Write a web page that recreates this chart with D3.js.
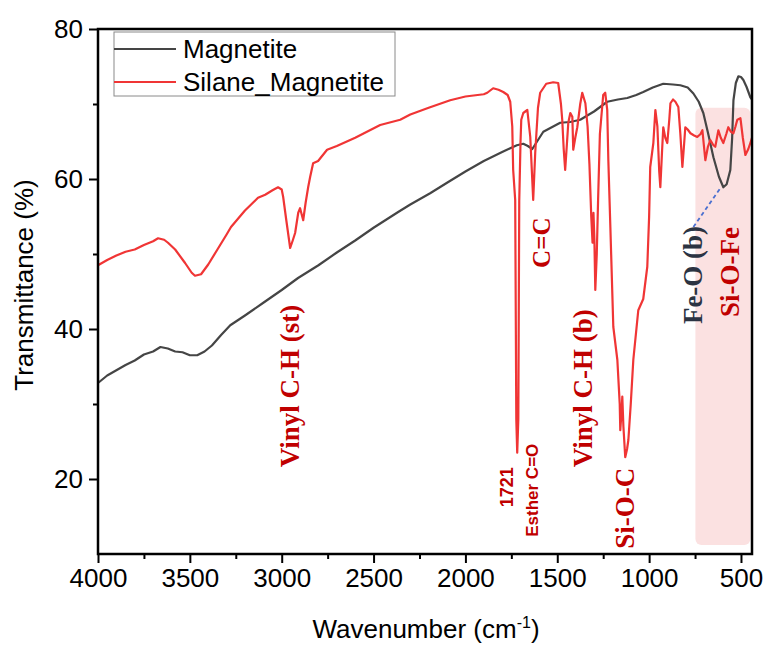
<!DOCTYPE html>
<meta charset="utf-8">
<style>
  body { margin: 0; background: #fff; }
  .tick text { font-family: "Liberation Sans", Arial, sans-serif; font-size: 26px; fill: #000; }
  .ann { font-family: "Liberation Serif", "Times New Roman", serif; font-weight: bold; font-size: 27px; }
  .ann-small { font-family: "Liberation Sans", Arial, sans-serif; font-weight: bold; font-size: 17px; }
</style>
<body>
<svg width="766" height="646"></svg>
<script src="https://cdn.jsdelivr.net/npm/d3@7"></script>
<script>

// spectra (wavenumber in cm-1, transmittance in %)
var magWn = [4000,3950,3900,3850,3800,3750,3700,3660,3620,3580,3540,3500,3460,3420,3380,3330,3280,3200,3100,3000,2911,2800,2700,2600,2500,2366,2300,2192,2100,2000,1900,1800,1756,1720,1685,1660,1636,1610,1576,1530,1484,1430,1375,1300,1228,1170,1119,1070,1032,980,923,870,830,790,759,730,705,680,650,620,596,578,558,548,541,528,514,500,487,470,449,440];
var magT  = [32.8,33.8,34.5,35.2,35.8,36.6,37.0,37.6,37.4,37.0,36.9,36.5,36.5,37.0,37.8,39.2,40.5,41.8,43.5,45.2,46.8,48.5,50.2,51.8,53.5,55.6,56.6,58.1,59.5,61.0,62.4,63.6,64.1,64.5,64.7,64.4,64.0,65.0,66.3,66.9,67.5,67.6,67.9,69.0,70.3,70.6,70.8,71.2,71.6,72.2,72.7,72.6,72.5,72.2,71.4,70.3,68.8,66.2,62.9,60.3,58.9,59.3,61.2,65.5,70.5,72.8,73.7,73.6,73.2,72.3,70.9,70.6];

var silWn = [4000,3950,3900,3850,3800,3750,3700,3673,3640,3619,3580,3526,3490,3472,3439,3400,3350,3300,3276,3200,3129,3090,3050,3020,3000,2992,2975,2954,2940,2927,2910,2900,2883,2870,2856,2845,2829,2802,2753,2700,2600,2464,2355,2300,2200,2083,2000,1900,1881,1849,1820,1794,1770,1756,1745,1740,1729,1723,1718,1712,1707,1700,1696,1685,1663,1647,1631,1620,1605,1593,1560,1522,1495,1480,1473,1465,1457,1448,1440,1429,1418,1413,1402,1391,1375,1364,1347,1335,1325,1315,1308,1303,1298,1293,1285,1278,1268,1250,1239,1228,1222,1211,1195,1173,1160,1157,1150,1146,1140,1130,1120,1113,1100,1086,1059,1032,1010,1000,994,977,966,955,945,939,930,923,912,901,890,884,870,857,841,830,819,810,803,790,775,755,738,720,710,700,694,680,667,650,640,623,610,596,580,569,555,541,530,520,503,490,476,460,449,440];
var silT  = [48.5,49.2,49.8,50.3,50.6,51.2,51.7,52.1,51.9,51.5,50.6,48.8,47.5,47.1,47.3,48.6,50.6,52.6,53.6,55.8,57.5,57.9,58.5,58.9,58.6,57.6,54.5,50.8,51.8,52.8,55.5,56.1,54.5,56.8,58.9,60.3,62.1,62.4,63.9,64.4,65.5,67.2,67.9,68.6,69.5,70.5,71.0,71.3,71.5,72.1,71.9,71.6,71.2,70.3,67.0,61.2,57.2,27.9,23.5,28.0,57.0,65.0,67.9,68.8,69.2,65.6,57.2,63.5,69.5,71.5,72.7,72.9,72.8,70.0,67.9,64.0,61.2,64.5,67.5,68.8,68.3,63.9,65.5,66.9,70.0,71.5,70.1,67.0,62.0,55.0,51.5,55.5,52.0,45.2,50.0,57.0,66.0,71.2,71.5,69.2,62.5,53.6,40.3,35.9,30.0,26.5,29.0,31.0,27.0,22.9,24.0,25.2,30.0,35.9,42.5,44.0,48.3,55.0,61.6,64.8,69.2,67.0,61.0,58.9,63.5,66.9,65.5,64.8,68.0,70.1,70.6,70.3,69.6,66.0,61.6,64.5,66.9,66.6,66.1,65.8,65.6,66.0,66.5,64.0,62.5,64.3,65.2,64.5,64.3,66.5,65.5,64.8,66.0,66.9,66.3,66.1,67.0,67.9,68.1,65.5,63.2,64.0,64.8,65.5];

var seriesNames = ["Magnetite", "Silane_Magnetite"];

// band labels: text, wavenumber, transmittance (label centre), style
var annText = ["Vinyl C-H (st)", "1721", "Esther C=O", "C=C", "Vinyl C-H (b)", "Si-O-C", "Fe-O (b)", "Si-O-Fe"];
var annWn   = [2954, 1772, 1636, 1587, 1358, 1130, 759, 558];
var annT    = [32.4, 18.9, 18.5, 51.5, 32.1, 16.1, 47.2, 47.6];
var annKind = ["big", "small", "small", "c", "big", "big", "feo", "big"];

// highlighted Si-O-Fe region
var bandWn = [748, 449];
var bandT  = [11.2, 69.5];

var xTicks = [4000, 3500, 3000, 2500, 2000, 1500, 1000, 500];
var xMinor = [3750, 3250, 2750, 2250, 1750, 1250, 750];
var yTicks = [20, 40, 60, 80];
var yMinor = [30, 50, 70];

var svg = d3.select("svg");
var mL = 98, mR = 752, mT = 29, mB = 554;

var x = d3.scaleLinear().domain([4000, 440]).range([mL, mR]);
var y = d3.scaleLinear().domain([10, 80]).range([mB, mT]);

// pink band
svg.append("rect")
    .attr("x", x(bandWn[0]))
    .attr("y", y(bandT[1]))
    .attr("width", x(bandWn[1]) - x(bandWn[0]))
    .attr("height", y(bandT[0]) - y(bandT[1]))
    .attr("rx", 6)
    .attr("fill", "#fbe1e1");

var line = d3.line()
    .x(function(d) { return x(d[0]); })
    .y(function(d) { return y(d[1]); });

svg.append("path")
    .datum(magWn.map(function(w, i) { return [w, magT[i]]; }))
    .attr("fill", "none")
    .attr("stroke", "#454545")
    .attr("stroke-width", 2.2)
    .attr("stroke-linejoin", "round")
    .attr("d", line);

svg.append("path")
    .datum(silWn.map(function(w, i) { return [w, silT[i]]; }))
    .attr("fill", "none")
    .attr("stroke", "#f03535")
    .attr("stroke-width", 2.2)
    .attr("stroke-linejoin", "round")
    .attr("d", line);

// axes
svg.append("g").attr("transform", "translate(0," + mB + ")")
    .call(d3.axisBottom(x).tickValues(xTicks).tickSize(9).tickPadding(6).tickFormat(d3.format("d")));
svg.append("g").attr("transform", "translate(0," + mB + ")")
    .call(d3.axisBottom(x).tickValues(xMinor).tickSize(5).tickFormat(""));
svg.append("g").attr("transform", "translate(" + mL + ",0)")
    .call(d3.axisLeft(y).tickValues(yTicks).tickSize(9).tickPadding(6));
svg.append("g").attr("transform", "translate(" + mL + ",0)")
    .call(d3.axisLeft(y).tickValues(yMinor).tickSize(5).tickFormat(""));
svg.selectAll(".domain").remove();
svg.selectAll(".tick line").attr("stroke", "#000").attr("stroke-width", 2);

svg.append("rect")
    .attr("x", mL).attr("y", mT)
    .attr("width", mR - mL).attr("height", mB - mT)
    .attr("fill", "none").attr("stroke", "#000").attr("stroke-width", 2.5);

// axis titles
svg.append("text")
    .attr("transform", "translate(24,285) rotate(-90)")
    .attr("text-anchor", "middle")
    .attr("dominant-baseline", "central")
    .style("font-family", "'Liberation Sans', Arial, sans-serif")
    .style("font-size", "26px")
    .text("Transmittance (%)");

var xt = svg.append("text")
    .attr("x", 426).attr("y", 638)
    .attr("text-anchor", "middle")
    .style("font-family", "'Liberation Sans', Arial, sans-serif")
    .style("font-size", "26px");
xt.append("tspan").text("Wavenumber (cm");
xt.append("tspan").attr("dy", -10).style("font-size", "16px").text("-1");
xt.append("tspan").attr("dy", 10).text(")");

// legend
var legend = svg.append("g");
legend.append("rect")
    .attr("x", 114).attr("y", 32).attr("width", 281).attr("height", 64)
    .attr("fill", "#fff").attr("stroke", "#8a8a8a").attr("stroke-width", 1);
var legColors = ["#454545", "#f03535"];
seriesNames.forEach(function(name, i) {
    var ly = 49 + i * 33;
    legend.append("line")
        .attr("x1", 114).attr("x2", 176).attr("y1", ly).attr("y2", ly)
        .attr("stroke", legColors[i]).attr("stroke-width", 2.2);
    legend.append("text")
        .attr("x", 183).attr("y", ly)
        .attr("dominant-baseline", "central")
        .style("font-family", "'Liberation Sans', Arial, sans-serif")
        .style("font-size", "26px")
        .text(name);
});

// dashed pointer from Fe-O label to the magnetite minimum
svg.append("line")
    .attr("x1", x(759)).attr("y1", y(53.6))
    .attr("x2", x(612)).attr("y2", y(58.8))
    .attr("stroke", "#4a6fd0").attr("stroke-width", 1.8)
    .attr("stroke-dasharray", "4,3");

// band annotations
annText.forEach(function(t, i) {
    var k = annKind[i];
    svg.append("text")
        .attr("class", k == "small" ? "ann-small" : "ann")
        .attr("transform", "translate(" + x(annWn[i]) + "," + y(annT[i]) + ") rotate(-90)")
        .attr("text-anchor", "middle")
        .attr("dominant-baseline", "central")
        .style("font-size", k == "c" ? "25px" : (t == "1721" ? "18px" : null))
        .attr("fill", k == "feo" ? "#2b3342" : "#c00000")
        .text(t);
});

</script>
</body>
